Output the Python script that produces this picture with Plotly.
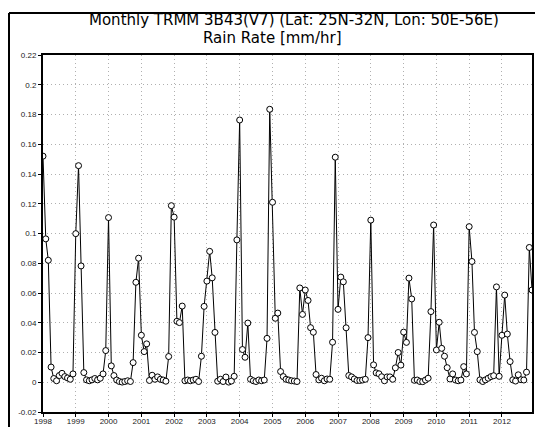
import pandas as pd
import plotly.graph_objects as go

start_month = "1998-01-01"
n_months = 180

rain_1998 = [0.152, 0.0964, 0.082, 0.0102, 0.0025, 0.001, 0.0045, 0.006, 0.0038, 0.0029, 0.002, 0.0056]
rain_1999 = [0.0999, 0.1456, 0.0782, 0.0065, 0.0016, 0.001, 0.0016, 0.0025, 0.0016, 0.0027, 0.0056, 0.0213]
rain_2000 = [0.1107, 0.011, 0.0045, 0.0015, 0.0005, 0.0001, 0.0005, 0.001, 0.0005, 0.0132, 0.0672, 0.0834]
rain_2001 = [0.0316, 0.0206, 0.0258, 0.0012, 0.0047, 0.002, 0.0036, 0.002, 0.0015, 0.0007, 0.0173, 0.1187]
rain_2002 = [0.111, 0.041, 0.0401, 0.0512, 0.001, 0.0015, 0.001, 0.0015, 0.002, 0.0005, 0.0175, 0.051]
rain_2003 = [0.068, 0.088, 0.0702, 0.0335, 0.0007, 0.002, 0.0005, 0.0035, 0.0001, 0.0008, 0.004, 0.0957]
rain_2004 = [0.1763, 0.022, 0.0168, 0.0398, 0.002, 0.001, 0.0005, 0.0015, 0.001, 0.0015, 0.0295, 0.1835]
rain_2005 = [0.121, 0.043, 0.0465, 0.0072, 0.0038, 0.002, 0.0015, 0.001, 0.0008, 0.0005, 0.0634, 0.0456]
rain_2006 = [0.062, 0.055, 0.0367, 0.0336, 0.0052, 0.0016, 0.0027, 0.001, 0.0022, 0.002, 0.0269, 0.1513]
rain_2007 = [0.049, 0.0707, 0.0675, 0.0366, 0.0045, 0.0036, 0.0022, 0.0012, 0.0012, 0.0015, 0.002, 0.030]
rain_2008 = [0.109, 0.0117, 0.0063, 0.0057, 0.0037, 0.001, 0.0036, 0.0036, 0.002, 0.0097, 0.020, 0.0115]
rain_2009 = [0.0337, 0.0268, 0.070, 0.056, 0.0013, 0.0015, 0.0005, 0.0004, 0.0015, 0.0027, 0.0475, 0.1057]
rain_2010 = [0.0217, 0.0403, 0.0228, 0.0175, 0.0098, 0.0022, 0.0056, 0.0015, 0.001, 0.0015, 0.0105, 0.0056]
rain_2011 = [0.1046, 0.0812, 0.0335, 0.0206, 0.0016, 0.0005, 0.0016, 0.0027, 0.0038, 0.0044, 0.0641, 0.004]
rain_2012 = [0.0316, 0.0586, 0.0324, 0.0139, 0.0016, 0.0008, 0.005, 0.0017, 0.0015, 0.0068, 0.0906, 0.062]

year_labels = [str(y) for y in range(1998, 2013)]
y_tick_values = [-0.02, 0, 0.02, 0.04, 0.06, 0.08, 0.1, 0.12, 0.14, 0.16, 0.18, 0.2, 0.22]
y_tick_labels = ["-0.02", "0", "0.02", "0.04", "0.06", "0.08", "0.1", "0.12", "0.14", "0.16", "0.18", "0.2", "0.22"]

title_line1 = "Monthly TRMM 3B43(V7) (Lat: 25N-32N, Lon: 50E-56E)"
title_line2 = "Rain Rate [mm/hr]"

rain = (rain_1998 + rain_1999 + rain_2000 + rain_2001 + rain_2002 + rain_2003 + rain_2004 +
        rain_2005 + rain_2006 + rain_2007 + rain_2008 + rain_2009 + rain_2010 + rain_2011 + rain_2012)
months = pd.date_range(start_month, periods=n_months, freq="MS")
year_ticks = [pd.Timestamp(f"{y}-01-01") for y in year_labels]

W, H = 535, 427
ML, MR, MT, MB = 43, 3, 55, 15
pw, ph = W - ML - MR, H - MT - MB

def px_x(x):
    return (x - ML) / pw

def px_y(y):
    return (H - MB - y) / ph

fig = go.Figure()
fig.add_trace(go.Scatter(
    x=months, y=rain, mode="lines+markers",
    line=dict(color="black", width=1),
    marker=dict(symbol="circle", size=6, color="white", line=dict(color="black", width=1)),
    cliponaxis=True, showlegend=False,
))

tick_font = dict(family="Liberation Sans, Arial, sans-serif", size=8, color="#222")
grid = dict(showgrid=True, gridcolor="#b0b0b0", griddash="1px,3px", gridwidth=1)
axis_common = dict(showline=True, linecolor="black", linewidth=2, mirror=True,
                   ticks="outside", ticklen=3, tickcolor="black", tickfont=tick_font,
                   zeroline=False, automargin=False)
fig.update_xaxes(range=[months[0], months[-1]], tickvals=year_ticks, ticktext=year_labels,
                 ticklabelstandoff=-3, **grid, **axis_common)
fig.update_yaxes(range=[-0.02, 0.22], tickvals=y_tick_values, ticktext=y_tick_labels,
                 **grid, **axis_common)

title_font = dict(family="DejaVu Sans, sans-serif", size=15, color="black")
fig.add_annotation(text=title_line1, xref="paper", yref="paper", x=px_x(294), y=px_y(20.5),
                   showarrow=False, font=title_font, xanchor="center", yanchor="middle")
fig.add_annotation(text=title_line2, xref="paper", yref="paper", x=px_x(272), y=px_y(38.5),
                   showarrow=False, font=title_font, xanchor="center", yanchor="middle")

# outer frame lines
fig.add_shape(type="line", xref="paper", yref="paper", x0=px_x(9), x1=px_x(9), y0=px_y(13), y1=px_y(H),
              line=dict(color="black", width=2))
fig.add_shape(type="line", xref="paper", yref="paper", x0=px_x(9), x1=px_x(W), y0=px_y(13), y1=px_y(13),
              line=dict(color="black", width=2))

fig.update_layout(
    width=W, height=H, margin=dict(l=ML, r=MR, t=MT, b=MB),
    paper_bgcolor="white", plot_bgcolor="white",
)
fig.write_html("out.html", config={"displayModeBar": False},
               post_script="document.body.style.margin='0px';")
